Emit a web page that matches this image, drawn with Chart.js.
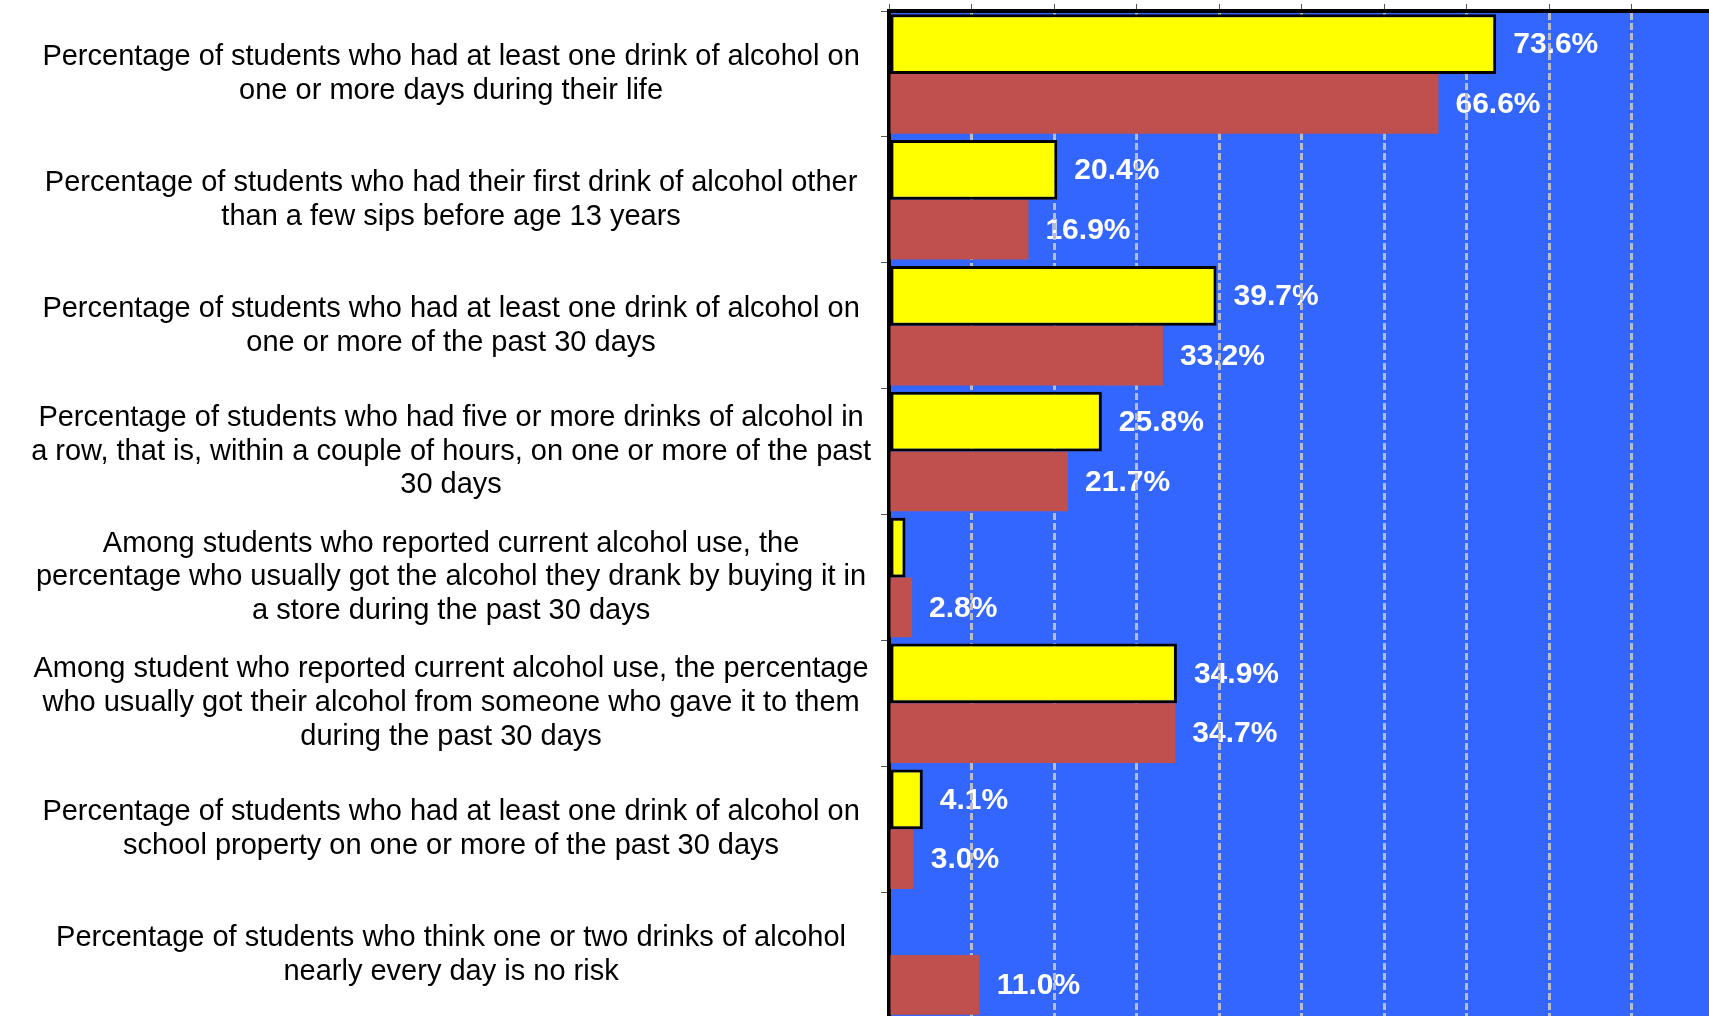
<!DOCTYPE html>
<html>
<head>
<meta charset="utf-8">
<title>Alcohol use</title>
<script src="https://cdn.jsdelivr.net/npm/chart.js"></script>
<style>
    html, body {
        margin: 0;
        padding: 0;
        background: #ffffff;
        overflow: hidden;
    }
    #wrap {
        position: absolute;
        left: 0;
        top: 0;
    }
</style>
</head>
<body>
<div id="wrap">
    <canvas id="alcoholChart" width="1716" height="1018"></canvas>
</div>
<script>
var questions = [
    ["Percentage of students who had at least one drink of alcohol on", "one or more days during their life"],
    ["Percentage of students who had their first drink of alcohol other", "than a few sips before age 13 years"],
    ["Percentage of students who had at least one drink of alcohol on", "one or more of the past 30 days"],
    ["Percentage of students who had five or more drinks of alcohol in", "a row, that is, within a couple of hours, on one or more of the past", "30 days"],
    ["Among students who reported current alcohol use, the", "percentage who usually got the alcohol they drank by buying it in", "a store during the past 30 days"],
    ["Among student who reported current alcohol use, the percentage", "who usually got their alcohol from someone who gave it to them", "during the past 30 days"],
    ["Percentage of students who had at least one drink of alcohol on", "school property on one or more of the past 30 days"],
    ["Percentage of students who think one or two drinks of alcohol", "nearly every day is no risk"]
];

// yellow series (last question has no value)
var yellowValues = [73.6, 20.4, 39.7, 25.8, 2.0, 34.9, 4.1, null];
// red series
var redValues = [66.6, 16.9, 33.2, 21.7, 2.8, 34.7, 3.0, 11.0];

// percent axis
var axisMin = 0;
var axisMax = 100;
var axisStep = 10;

// bars that carry no value label: [datasetIndex, index]
var unlabeled = [[0, 4]];

var plotBackground = {
    id: 'plotBackground',
    beforeDraw: function (chart) {
        var ctx = chart.ctx;
        var area = chart.chartArea;
        ctx.save();
        ctx.fillStyle = '#3366FF';
        ctx.fillRect(area.left, area.top, area.right - area.left, area.bottom - area.top);

        // value labels sit under the grid lines, so draw them here
        ctx.fillStyle = '#ffffff';
        ctx.font = 'bold 30px "Liberation Sans", Arial, sans-serif';
        ctx.textAlign = 'left';
        ctx.textBaseline = 'middle';
        chart.data.datasets.forEach(function (ds, di) {
            var meta = chart.getDatasetMeta(di);
            meta.data.forEach(function (bar, i) {
                var v = ds.data[i];
                if (v === null || v === undefined) return;
                var skip = unlabeled.some(function (p) { return p[0] === di && p[1] === i; });
                if (skip) return;
                ctx.fillText(v.toFixed(1) + '%', bar.x + 17, bar.y + 1);
            });
        });
        ctx.restore();
    }
};

var ctx = document.getElementById('alcoholChart');
new Chart(ctx, {
    type: 'bar',
    data: {
        labels: questions,
        datasets: [{
            data: yellowValues,
            backgroundColor: '#FFFF00',
            borderColor: '#000000',
            borderWidth: 3,
            borderSkipped: false,
            categoryPercentage: 0.95,
            barPercentage: 1.0
        }, {
            data: redValues,
            backgroundColor: '#C0504D',
            borderWidth: 0,
            categoryPercentage: 0.95,
            barPercentage: 1.0
        }]
    },
    options: {
        indexAxis: 'y',
        responsive: false,
        animation: false,
        layout: {
            padding: { top: 4, right: 2, bottom: 0, left: 0 }
        },
        plugins: {
            legend: { display: false },
            tooltip: { enabled: false }
        },
        scales: {
            x: {
                position: 'top',
                min: axisMin,
                max: axisMax,
                ticks: {
                    display: false,
                    stepSize: axisStep
                },
                grid: {
                    color: '#B9BBC8',
                    lineWidth: 3,
                    drawTicks: true,
                    tickLength: 7,
                    tickColor: '#555555',
                    tickWidth: 1
                },
                border: {
                    display: true,
                    color: '#000000',
                    width: 4,
                    dash: [7, 3]
                }
            },
            y: {
                ticks: {
                    crossAlign: 'center',
                    padding: 10,
                    color: '#000000',
                    font: {
                        family: '"Liberation Sans", Arial, sans-serif',
                        size: 29,
                        lineHeight: 1.17
                    }
                },
                grid: {
                    drawOnChartArea: false,
                    drawTicks: true,
                    tickLength: 8,
                    tickColor: '#555555',
                    tickWidth: 1
                },
                border: {
                    display: true,
                    color: '#000000',
                    width: 4
                },
                afterFit: function (scale) {
                    // fixed label column, no extra room for the outer labels
                    scale.width = 889;
                    scale.paddingTop = 0;
                    scale.paddingBottom = 0;
                }
            }
        }
    },
    plugins: [plotBackground]
});
</script>
</body>
</html>
